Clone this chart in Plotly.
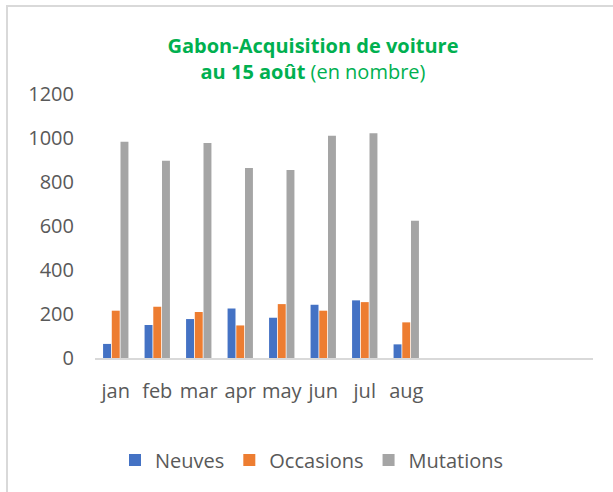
import plotly.graph_objects as go

months = ["jan", "feb", "mar", "apr", "may", "jun", "jul", "aug", "sep", "oct", "nov", "dec"]
tick_labels = ["jan", "feb", "mar", "apr", "may", "jun", "jul", "aug", "", "", "", ""]
neuves = [64, 150, 177, 225, 183, 242, 262, 62, None, None, None, None]
occasions = [215, 233, 209, 148, 245, 215, 254, 162, None, None, None, None]
mutations = [983, 897, 977, 864, 855, 1010, 1022, 624, None, None, None, None]

series = [("Neuves", neuves, "#4472C4"),
          ("Occasions", occasions, "#ED7D31"),
          ("Mutations", mutations, "#A5A5A5")]

fig = go.Figure()
for name, vals, col in series:
    fig.add_trace(go.Bar(x=months, y=vals, name=name, marker_color=col,
                         marker_line_width=0))

W, H = 613, 492
L, R, T, B = 95, 20, 94, 134
pw, ph = W - L - R, H - T - B

def px2x(px):
    return (px - L) / pw

def px2y(py):
    return (H - B - py) / ph

fig.update_layout(
    width=W, height=H,
    margin=dict(l=L, r=R, t=T, b=B, pad=0),
    paper_bgcolor="white", plot_bgcolor="white",
    font=dict(family="Open Sans, sans-serif", color="#595959", size=20),
    barmode="group", bargap=0.37, bargroupgap=0.09,
    title=dict(
        text="<b>Gabon-Acquisition de voiture</b><br><b>au 15 août</b> (en nombre)",
        font=dict(color="#00B050", size=20, family="Open Sans, sans-serif"),
        x=313 / W, xref="container", xanchor="center",
        y=1 - 53 / H, yref="container", yanchor="top",
    ),
    showlegend=True,
    legend=dict(orientation="h", x=px2x(312), xanchor="center",
                y=px2y(460), yanchor="middle",
                font=dict(size=20, color="#595959"),
                itemwidth=30, tracegroupgap=0),
    xaxis=dict(tickmode="array", tickvals=months, ticktext=tick_labels,
               showline=True, linecolor="#D9D9D9", linewidth=1.5,
               ticks="", showgrid=False, zeroline=False,
               ticklabelstandoff=14, tickfont=dict(size=20)),
    yaxis=dict(range=[0, 1200], dtick=200, showgrid=False, zeroline=False,
               showline=False, ticks="", ticklabelstandoff=20,
               tickfont=dict(size=20)),
    shapes=[
        dict(type="line", xref="paper", yref="paper",
             x0=px2x(6), x1=px2x(613), y0=px2y(6), y1=px2y(6),
             line=dict(color="#D9D9D9", width=2)),
        dict(type="line", xref="paper", yref="paper",
             x0=px2x(7), x1=px2x(7), y0=px2y(5), y1=px2y(492),
             line=dict(color="#D9D9D9", width=2)),
    ],
)

fig.write_html("out.html", config={"displayModeBar": False},
               post_script="document.body.style.margin='0';")
